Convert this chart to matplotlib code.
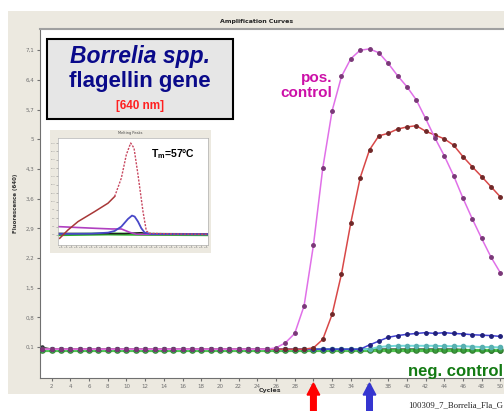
import numpy as np
import matplotlib
matplotlib.use("Agg")
import matplotlib.pyplot as plt
from matplotlib import patches, transforms

# ---- amplification data (fluorescence 640 nm per cycle) ----
cycles = np.arange(1, 51)

pos_control = [0.05] * 25 + [0.08, 0.20, 0.42, 1.07, 2.50, 4.32, 5.67, 6.48, 6.90, 7.10,
                             7.13, 7.04, 6.79, 6.50, 6.24, 5.93, 5.49, 5.03, 4.61, 4.14,
                             3.61, 3.12, 2.66, 2.22, 1.85]
sample_red = [0.05] * 29 + [0.08, 0.28, 0.87, 1.82, 3.03, 4.09, 4.75, 5.08, 5.14, 5.24,
                            5.29, 5.32, 5.19, 5.10, 5.01, 4.86, 4.59, 4.35, 4.12, 3.88, 3.64]
sample_blue = [0.05] * 35 + [0.15, 0.24, 0.33, 0.37, 0.40, 0.42, 0.44, 0.42, 0.44, 0.42,
                             0.41, 0.39, 0.38, 0.37, 0.35]
sample_cyan = [0.05] * 36 + [0.10, 0.12, 0.13, 0.13, 0.13, 0.13, 0.13, 0.12, 0.12, 0.12,
                             0.11, 0.10, 0.10, 0.09]
neg_green = [0.04] * 50
neg_black = [0.09] + [0.05] * 44 + [0.04, 0.03, 0.02, 0.01, 0.0]

ct_cycles = [30, 36]
ct_colors = ["#ff0000", "#3535d0"]

ytick_vals = [0.1, 0.8, 1.5, 2.2, 2.9, 3.6, 4.3, 5.0, 5.7, 6.4, 7.1]
ytick_labels = ["0,1", "0,8", "1,5", "2,2", "2,9", "3,6", "4,3", "5", "5,7", "6,4", "7,1"]
xtick_vals = list(range(2, 52, 2))

# ---- melting peak inset data ----
melt_red_t = [35.5, 38, 41, 46, 50, 52, 54, 55.5, 56.8, 57.8, 59, 60.5, 61.5, 62.5, 70, 80]
melt_red_v = [-1.0, 1.5, 4.0, 7.0, 9.5, 11.5, 17, 24, 27.5, 26, 18, 7, 1.2, 0.5, 0.3, 0.2]
melt_blue_t = [35, 45, 50, 52, 54, 56, 57.2, 58, 59, 60, 61, 63, 80]
melt_blue_v = [0.3, 0.4, 0.7, 1.2, 2.5, 4.8, 5.8, 5.5, 4.0, 2.0, 0.7, 0.3, 0.2]
melt_purple_t = [35, 46, 51, 54, 56.5, 58.5, 80]
melt_purple_v = [2.5, 2.0, 1.8, 1.8, 0.8, 0.2, 0.2]
melt_green_t = [35, 50, 60, 80]
melt_green_v = [0.1, 0.3, 0.2, 0.1]
melt_black_t = [35, 45, 55, 60, 62, 80]
melt_black_v = [0.5, 0.4, 0.4, 0.7, 0.3, 0.2]

W, H = 504, 411
fig = plt.figure(figsize=(W / 100, H / 100), dpi=100)
fig.patch.set_facecolor("white")


def box(x0, y0, x1, y1):
    # pixel box (top-left origin) -> figure fraction rect
    return [x0 / W, 1 - y1 / H, (x1 - x0) / W, (y1 - y0) / H]


# window background
bg = patches.Rectangle((8 / W, 1 - 394 / H), 1, (394 - 11) / H, transform=fig.transFigure,
                       facecolor="#ece9e0", edgecolor="none", zorder=-2)
fig.patches.append(bg)
fig.text(257 / W, 1 - 21 / H, "Amplification Curves", fontsize=4.5, fontweight="bold",
         ha="center", va="center", color="#222222")

# ---- main plot ----
ax = fig.add_axes(box(40, 29, 520, 378))
ax.set_facecolor("white")

ax.plot(cycles, neg_black, color="#202020", lw=1.1, marker="o", ms=2.2, zorder=2)
ax.plot(cycles, neg_green, color="#40c040", lw=2.3, marker="o", ms=3.8,
        mfc="#3a9a3a", mec="#2f7f2f", alpha=0.9, zorder=3)
ax.plot(cycles, sample_cyan, color="#70d8d8", lw=1.4, marker="o", ms=3,
        mfc="#58b0b0", mec="#58b0b0", zorder=3)
ax.plot(cycles, sample_blue, color="#4040d0", lw=1.1, marker="o", ms=2.5,
        mfc="#20207a", mec="#20207a", zorder=4)
ax.plot(cycles, sample_red, color="#d84848", lw=1.1, marker="o", ms=2.5,
        mfc="#702828", mec="#702828", zorder=5)
ax.plot(cycles, pos_control, color="#e070e8", lw=1.1, marker="o", ms=2.5,
        mfc="#7a3878", mec="#7a3878", zorder=6)

ax.set_xlim(0.75, 52.1)
ax.set_ylim(-0.63, 7.6)
ax.set_xticks(xtick_vals)
ax.set_xticklabels([str(v) for v in xtick_vals])
ax.set_yticks(ytick_vals)
ax.set_yticklabels(ytick_labels)
ax.tick_params(labelsize=4, colors="#707070", length=2, pad=2)
for s in ["left", "bottom"]:
    ax.spines[s].set_color("#707070")
ax.spines["top"].set_color("#a0a0a0")
ax.spines["top"].set_linewidth(1.5)
ax.spines["right"].set_visible(False)

fig.text(270 / W, 1 - 390 / H, "Cycles", fontsize=4.5, fontweight="bold",
         ha="center", va="center", color="#333333")
fig.text(15 / W, 1 - 203 / H, "Fluorescence (640)", fontsize=4, fontweight="bold",
         rotation=90, ha="center", va="center", color="#333333")

# Ct arrows below the axis
blend = transforms.blended_transform_factory(ax.transData, transforms.IdentityTransform())
for c, col in zip(ct_cycles, ct_colors):
    arr = patches.FancyArrow(c, 0, 0, H - 383, width=0.6, head_width=1.35, head_length=12,
                             length_includes_head=True, transform=blend, color=col,
                             clip_on=False, zorder=10)
    ax.add_patch(arr)

# annotations
fig.text(332 / W, 1 - 78 / H, "pos.", fontsize=11, fontweight="bold", color="#cc10a8",
         ha="right", va="center", family="Liberation Sans")
fig.text(332 / W, 1 - 93 / H, "control", fontsize=11, fontweight="bold", color="#cc10a8",
         ha="right", va="center", family="Liberation Sans")
fig.text(503 / W, 1 - 371 / H, "neg. control", fontsize=12, fontweight="bold",
         color="#137a13", ha="right", va="center", family="Liberation Sans", zorder=10)
fig.text(503 / W, 1 - 405 / H, "100309_7_Borrelia_Fla_G", fontsize=6.3, color="#222222",
         ha="right", va="center", family="Liberation Serif")

# title box
tb = patches.Rectangle((47 / W, 1 - 119 / H), (233 - 47) / W, (119 - 39) / H,
                       transform=fig.transFigure, facecolor="#e6e6e6", edgecolor="black",
                       lw=1.5, zorder=5)
fig.patches.append(tb)
fig.text(140 / W, 1 - 57 / H, "Borrelia spp.", fontsize=16.5, fontweight="bold",
         style="italic", color="#0a0a8a", ha="center", va="center",
         family="Liberation Sans", zorder=6)
fig.text(140 / W, 1 - 82 / H, "flagellin gene", fontsize=16, fontweight="bold",
         color="#0a0a8a", ha="center", va="center", family="Liberation Sans", zorder=6)
fig.text(140 / W, 1 - 106 / H, "[640 nm]", fontsize=8.5, fontweight="bold",
         color="#ff2020", ha="center", va="center", family="Liberation Sans", zorder=6)

# ---- melting peak inset ----
panel = fig.add_axes(box(50, 130, 211, 253), zorder=3)
panel.set_facecolor("#ece9e0")
panel.set_xticks([])
panel.set_yticks([])
for s in panel.spines.values():
    s.set_visible(False)
panel.text(0.5, 0.975, "Melting Peaks", fontsize=2.5, ha="center", va="center",
           transform=panel.transAxes, color="#444444")

ins = fig.add_axes(box(58, 138, 208, 245), zorder=4)
ins.set_facecolor("white")
ins.plot(melt_green_t, melt_green_v, color="#30b030", lw=2.2)
ins.plot(melt_black_t, melt_black_v, color="#202020", lw=1.0)
ins.plot(melt_purple_t, melt_purple_v, color="#b040c0", lw=1.2)
ins.plot(melt_blue_t, melt_blue_v, color="#4848c8", lw=1.3)
split = 6
ins.plot(melt_red_t[:split], melt_red_v[:split], color="#a83838", lw=1.1)
ins.plot(melt_red_t[split - 1:], melt_red_v[split - 1:], color="#c84860", lw=1.0,
         ls=(0, (1.5, 1)))
ins.set_xlim(35, 80)
ins.set_ylim(-3, 29)
ins.set_xticks(np.arange(36, 80, 1.5))
ins.set_yticks(np.arange(0, 29, 2.5))
ins.tick_params(length=1.2, width=0.4, colors="#888888", labelsize=1.5, pad=0.5)
for s in ins.spines.values():
    s.set_color("#b0b0b0")
    s.set_linewidth(0.5)
ins.text(0.62, 0.85, "T$_\\mathregular{m}$=57°C", transform=ins.transAxes, fontsize=7.5,
         fontweight="bold", ha="left", va="center", family="Liberation Sans")

fig.savefig("out.png", dpi=100)
